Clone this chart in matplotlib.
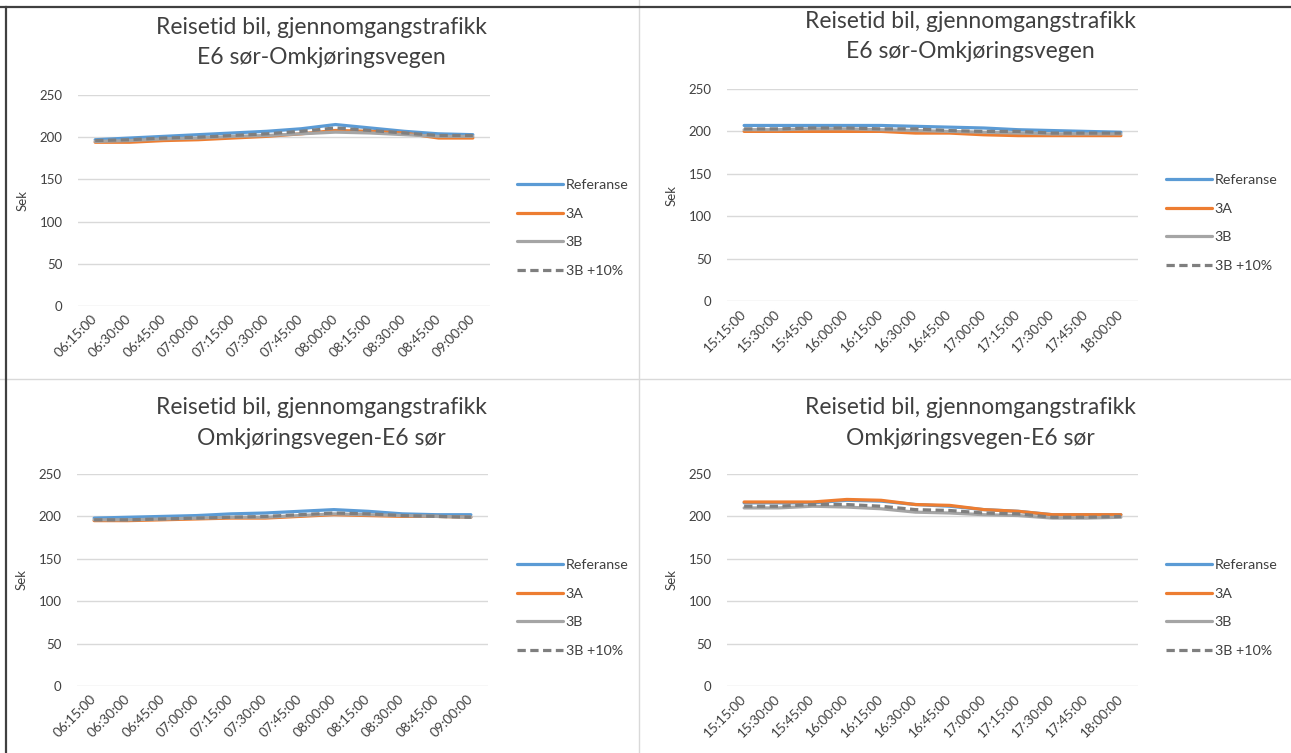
import numpy as np
import matplotlib
matplotlib.use('Agg')
from matplotlib import pyplot as plt
from matplotlib.lines import Line2D

# data ________________________________________________________________________

times_am = ['06:15:00', '06:30:00', '06:45:00', '07:00:00', '07:15:00', '07:30:00',
            '07:45:00', '08:00:00', '08:15:00', '08:30:00', '08:45:00', '09:00:00']
times_pm = ['15:15:00', '15:30:00', '15:45:00', '16:00:00', '16:15:00', '16:30:00',
            '16:45:00', '17:00:00', '17:15:00', '17:30:00', '17:45:00', '18:00:00']

series_names = ['Referanse', '3A', '3B', '3B +10%']

title_line1 = 'Reisetid bil, gjennomgangstrafikk'
title_s_o = 'E6 sør-Omkjøringsvegen'
title_o_s = 'Omkjøringsvegen-E6 sør'

# E6 sør-Omkjøringsvegen, morning
ref_am1  = [197, 199, 201, 203, 205, 207, 210, 215, 211, 207, 204, 203]
a3_am1   = [194, 194, 196, 197, 199, 201, 204, 208, 207, 205, 199, 199]
b3_am1   = [195, 196, 198, 199, 201, 202, 204, 206, 205, 203, 201, 201]
b3p_am1  = [196, 197, 199, 200, 202, 204, 207, 211, 208, 205, 202, 202]

# E6 sør-Omkjøringsvegen, afternoon
ref_pm1  = [207, 207, 207, 207, 207, 206, 205, 204, 202, 201, 200, 199]
a3_pm1   = [200, 200, 200, 200, 200, 198, 198, 196, 195, 195, 195, 195]
b3_pm1   = [202, 202, 203, 203, 202, 201, 200, 199, 198, 197, 197, 197]
b3p_pm1  = [203, 203, 204, 204, 203, 203, 201, 200, 200, 198, 198, 198]

# Omkjøringsvegen-E6 sør, morning
ref_am2  = [198, 199, 200, 201, 203, 204, 206, 208, 206, 203, 202, 202]
a3_am2   = [195, 195, 196, 197, 198, 198, 200, 202, 201, 200, 200, 199]
b3_am2   = [196, 196, 197, 198, 199, 199, 201, 203, 202, 201, 200, 199]
b3p_am2  = [196, 196, 197, 198, 199, 200, 202, 204, 203, 201, 200, 199]

# Omkjøringsvegen-E6 sør, afternoon
ref_pm2  = [216, 216, 216, 219, 218, 214, 212, 208, 206, 202, 202, 202]
a3_pm2   = [217, 217, 217, 220, 219, 214, 213, 208, 206, 202, 202, 202]
b3_pm2   = [210, 210, 212, 211, 209, 205, 204, 202, 201, 198, 198, 199]
b3p_pm2  = [212, 212, 214, 214, 212, 208, 207, 204, 203, 199, 199, 200]

yticks = [0, 50, 100, 150, 200, 250]

# style _______________________________________________________________________

plt.rcParams['font.family'] = ['Lato', 'DejaVu Sans']
W, H = 1291, 753
colors = ['#5B9BD5', '#ED7D31', '#A5A5A5', '#7F7F7F']
styles = ['-', '-', '-', (0, (2.6, 1.4))]
txt = '#404040'

fig = plt.figure(figsize=(W/100., H/100.), dpi=100)


def px_axes(x0, y0, x1, y1):
    # axes from pixel box (top-left origin)
    return fig.add_axes([x0/W, 1 - y1/H, (x1 - x0)/W, (y1 - y0)/H])


panels = [
    # box, title centre x, title y, legend x, legend y, times, series, subtitle
    ((78, 95, 490, 306),   321, 28,  517, 228, times_am,
     [ref_am1, a3_am1, b3_am1, b3p_am1], title_s_o),
    ((727, 89, 1138, 301), 970, 22,  1166, 223, times_pm,
     [ref_pm1, a3_pm1, b3_pm1, b3p_pm1], title_s_o),
    ((77, 474, 488, 686),  321, 408, 517, 608, times_am,
     [ref_am2, a3_am2, b3_am2, b3p_am2], title_o_s),
    ((727, 474, 1138, 686), 970, 408, 1166, 608, times_pm,
     [ref_pm2, a3_pm2, b3_pm2, b3p_pm2], title_o_s),
]

for box, tx, ty, lx, ly, times, data, sub in panels:
    ax = px_axes(*box)
    x = np.arange(len(times))
    for vals, name, c, ls in zip(data, series_names, colors, styles):
        ax.plot(x, vals, color=c, lw=2.3, ls=ls, label=name,
                solid_capstyle='round', dash_capstyle='butt')

    ax.set_xlim(-0.5, len(times) - 0.5)
    ax.set_ylim(0, 250)
    ax.set_yticks(yticks)
    ax.set_xticks(x)
    ax.set_xticklabels(times, rotation=45, ha='right', va='center',
                       rotation_mode='anchor', fontsize=9.8, color=txt)
    ax.tick_params(axis='y', length=0, pad=11, labelsize=9.5, labelcolor=txt)
    ax.tick_params(axis='x', length=0, pad=8)
    for s in ax.spines.values():
        s.set_visible(False)
    ax.grid(axis='y', color='#D9D9D9', lw=1)
    ax.set_axisbelow(True)

    ax.set_ylabel('Sek', fontsize=9.5, color=txt)
    ax.yaxis.set_label_coords(-49./(box[2] - box[0]), 0.5)

    fig.text(tx/W, 1 - ty/H, title_line1, ha='center', va='center',
             fontsize=16.5, color=txt)
    fig.text(tx/W, 1 - (ty + 30)/H, sub, ha='center', va='center',
             fontsize=16.5, color=txt)

    ax.legend(loc='center left', bbox_to_anchor=(lx/W, 1 - ly/H),
              bbox_transform=fig.transFigure, frameon=False, fontsize=10.3,
              handlelength=3.2, handletextpad=0.2, labelspacing=1.15,
              borderpad=0, borderaxespad=0, labelcolor=txt)

# panel borders _______________________________________________________________

fig.add_artist(Line2D([639/W, 639/W], [0, 1], color='#D9D9D9', lw=1))
fig.add_artist(Line2D([0, 1], [1 - 379/H, 1 - 379/H], color='#D9D9D9', lw=1))
fig.add_artist(Line2D([0, 1], [1 - 7/H, 1 - 7/H], color='#404040', lw=1.6))
fig.add_artist(Line2D([6/W, 6/W], [0, 1 - 7/H], color='#404040', lw=1.6))

fig.savefig('out.png', dpi=100)
